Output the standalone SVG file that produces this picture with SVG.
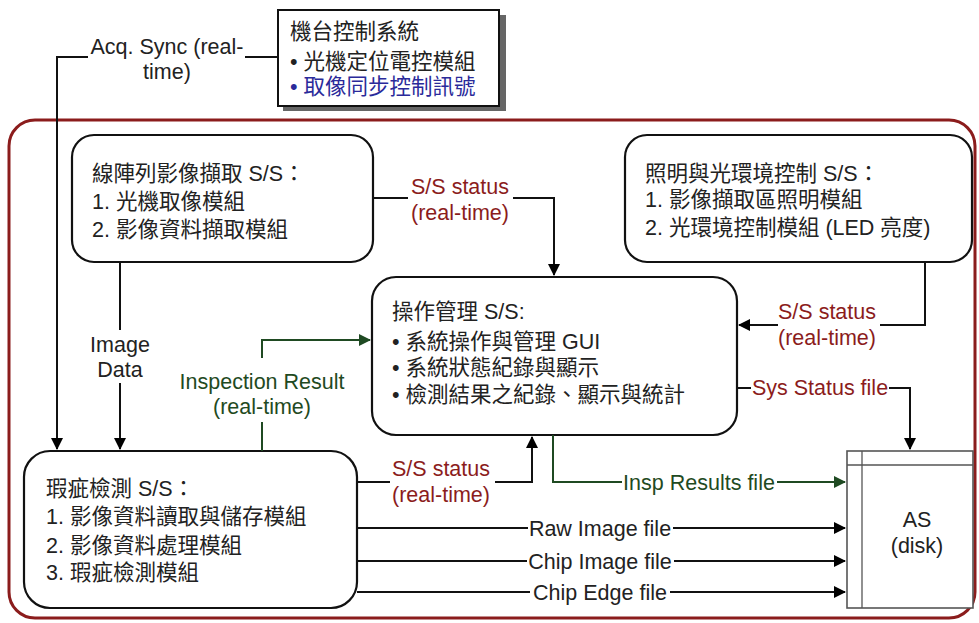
<svg xmlns="http://www.w3.org/2000/svg" width="979" height="623" viewBox="0 0 979 623">
<defs>
<marker id="ah" markerWidth="12" markerHeight="12" refX="11" refY="6" orient="auto" markerUnits="userSpaceOnUse" viewBox="0 0 12 12"><path d="M0,0 L12,6 L0,12 z" fill="#000"/></marker>
<marker id="ahg" markerWidth="12" markerHeight="12" refX="11" refY="6" orient="auto" markerUnits="userSpaceOnUse" viewBox="0 0 12 12"><path d="M0,0 L12,6 L0,12 z" fill="#1f4a22"/></marker>
</defs>
<style>
text{font-family:"Liberation Sans","Noto Sans CJK TC",sans-serif;font-size:21.5px;fill:#222;}
.r{fill:#8b1c1c;}
.g{fill:#1f4a22;}
.b{fill:#2a2a9a;}
.c{text-anchor:middle;}
.box{fill:#fff;stroke:#111;stroke-width:2.2;}
.ln{fill:none;stroke:#111;stroke-width:2;}
.lg{fill:none;stroke:#1f4a22;stroke-width:2;}
</style>
<rect x="9" y="120" width="966" height="498" rx="26" fill="none" stroke="#8b1c1c" stroke-width="3"/>
<g id="machine">
<rect x="283" y="15" width="223" height="96" fill="#666"/>
<rect x="278" y="10" width="221" height="96" fill="#fff" stroke="#111" stroke-width="2"/>
<text x="290" y="39">機台控制系統</text>
<text x="290" y="69">• 光機定位電控模組</text>
<text x="290" y="94" class="b">• 取像同步控制訊號</text>
</g>
<g id="acq">
<rect x="72" y="135" width="301" height="127" rx="22" class="box"/>
<text x="92" y="181">線陣列影像擷取 S/S：</text>
<text x="92" y="209">1. 光機取像模組</text>
<text x="92" y="237">2. 影像資料擷取模組</text>
</g>
<g id="light">
<rect x="625" y="135" width="347" height="127" rx="22" class="box"/>
<text x="645" y="181">照明與光環境控制 S/S：</text>
<text x="645" y="207">1. 影像擷取區照明模組</text>
<text x="645" y="235">2. 光環境控制模組 (LED 亮度)</text>
</g>
<g id="op">
<rect x="372" y="277" width="365" height="158" rx="24" class="box"/>
<text x="392" y="319">操作管理 S/S:</text>
<text x="392" y="349">• 系統操作與管理 GUI</text>
<text x="392" y="375">• 系統狀態紀錄與顯示</text>
<text x="392" y="402">• 檢測結果之紀錄、顯示與統計</text>
</g>
<g id="insp">
<rect x="24" y="451" width="333" height="157" rx="26" class="box"/>
<text x="46" y="496">瑕疵檢測 S/S：</text>
<text x="46" y="524">1. 影像資料讀取與儲存模組</text>
<text x="46" y="553">2. 影像資料處理模組</text>
<text x="46" y="580">3. 瑕疵檢測模組</text>
</g>
<g id="as">
<rect x="847" y="451" width="126" height="157" fill="#fff" stroke="#555" stroke-width="1.6"/>
<line x1="862" y1="451" x2="862" y2="608" stroke="#555" stroke-width="1.3"/>
<line x1="847" y1="465" x2="973" y2="465" stroke="#555" stroke-width="1.3"/>
<text x="917" y="527" class="c">AS</text>
<text x="917" y="553" class="c">(disk)</text>
</g>
<g id="connectors">
<path d="M277,57 H245" class="ln"/>
<path d="M88,57 H57 V449" class="ln" marker-end="url(#ah)"/>
<text x="167" y="54" class="c">Acq. Sync (real-</text>
<text x="167" y="79" class="c">time)</text>
<path d="M120,262 V330" class="ln"/>
<path d="M120,383 V449" class="ln" marker-end="url(#ah)"/>
<text x="120" y="352" class="c">Image</text>
<text x="120" y="377" class="c">Data</text>
<path d="M373,198 H408" class="ln"/>
<path d="M513,198 H554 V275" class="ln" marker-end="url(#ah)"/>
<text x="460" y="194" class="c r">S/S status</text>
<text x="460" y="220" class="c r">(real-time)</text>
<path d="M925,262 V325 H880" class="ln"/>
<path d="M778,325 H739" class="ln" marker-end="url(#ah)"/>
<text x="827" y="319" class="c r">S/S status</text>
<text x="827" y="345" class="c r">(real-time)</text>
<path d="M262,451 V422" class="lg"/>
<path d="M262,358 V340 H370" class="lg" marker-end="url(#ahg)"/>
<text x="262" y="389" class="c g">Inspection Result</text>
<text x="262" y="414" class="c g">(real-time)</text>
<path d="M357,482 H390" class="ln"/>
<path d="M495,482 H532 V437" class="ln" marker-end="url(#ah)"/>
<text x="441" y="476" class="c r">S/S status</text>
<text x="441" y="502" class="c r">(real-time)</text>
<path d="M737,388 H751" class="ln"/>
<path d="M889,388 H910 V449" class="ln" marker-end="url(#ah)"/>
<text x="820" y="395" class="c r">Sys Status file</text>
<path d="M553,435 V482 H622" class="lg"/>
<path d="M777,482 H845" class="lg" marker-end="url(#ahg)"/>
<text x="699" y="490" class="c g">Insp Results file</text>
<path d="M357,528 H528" class="ln"/>
<path d="M673,528 H845" class="ln" marker-end="url(#ah)"/>
<text x="600" y="536" class="c">Raw Image file</text>
<path d="M357,561 H527" class="ln"/>
<path d="M674,561 H845" class="ln" marker-end="url(#ah)"/>
<text x="600" y="569" class="c">Chip Image file</text>
<path d="M357,592 H530" class="ln"/>
<path d="M670,592 H845" class="ln" marker-end="url(#ah)"/>
<text x="600" y="600" class="c">Chip Edge file</text>
</g>
</svg>
